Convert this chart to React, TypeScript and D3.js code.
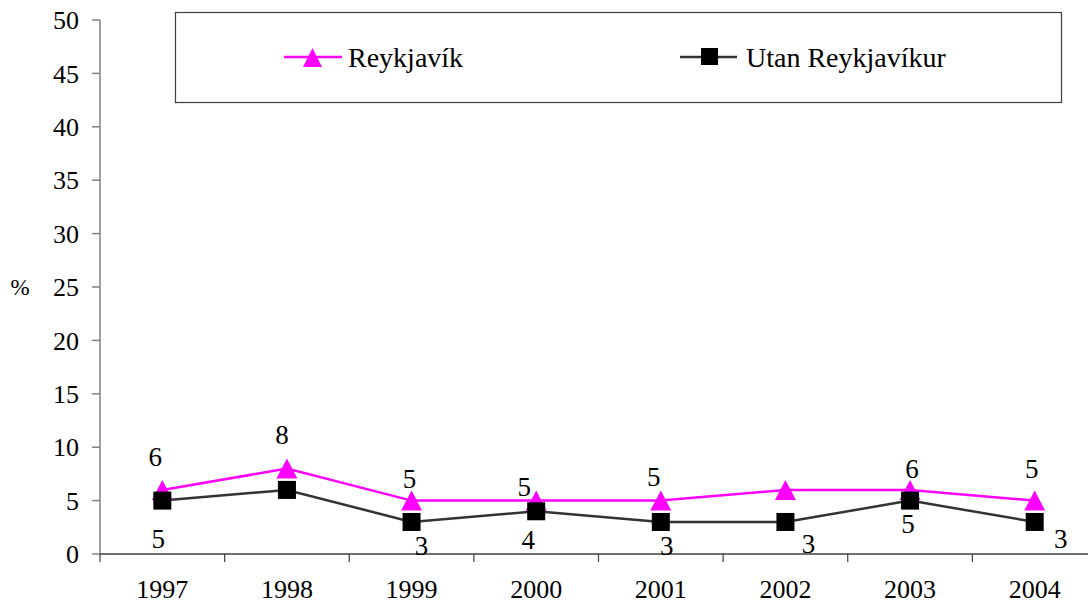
import React from "react";
import * as d3 from "d3";

const years = ["1997", "1998", "1999", "2000", "2001", "2002", "2003", "2004"];
const reykjavik = [6, 8, 5, 5, 5, 6, 6, 5];
const utan = [5, 6, 3, 4, 3, 3, 5, 3];
const reykLabelShown = [true, true, true, true, true, false, true, true];
const utanLabelShown = [true, false, true, true, true, true, true, true];
const yTicks = [0, 5, 10, 15, 20, 25, 30, 35, 40, 45, 50];

// label offsets (dx, baseline dy) relative to the marker
const reykOffsets: [number, number][] = [[-7, -24], [-5, -25], [-2, -13], [-12, -5], [-7, -15], [0, -15], [2, -12], [-3, -23]];
const utanOffsets: [number, number][] = [[-4, 47], [0, 45], [10, 33], [-8, 38], [6, 33], [23, 31], [-2, 32], [26, 26]];

const W = 1088, H = 607;
const SERIF = "'Liberation Serif', 'Times New Roman', serif";

function triPoints(x: number, y: number, w: number, h: number) {
  return `${x},${y - h / 2} ${x + w / 2},${y + h / 2} ${x - w / 2},${y + h / 2}`;
}

export default function App() {
  const x = d3.scaleBand<string>().domain(years).range([100, 1097]);
  const y = d3.scaleLinear().domain([0, 50]).range([554, 20]);
  const cx = (d: string) => (x(d) as number) + x.bandwidth() / 2;
  const line = d3.line<number>().x((_, i) => cx(years[i])).y((v) => y(v));
  const boundaries = years.map((d) => x(d) as number).concat([x.range()[1]]);

  return (
    <svg width={W} height={H} style={{ position: "absolute", left: 0, top: 0, background: "#fff" }}>
      {/* y axis */}
      <line x1={100} x2={100} y1={y(50)} y2={y(0)} stroke="#808080" strokeWidth={1.5} />
      {yTicks.map((t) => (
        <g key={t}>
          <line x1={92} x2={100} y1={y(t)} y2={y(t)} stroke="#808080" strokeWidth={1.5} />
          <text x={79} y={y(t)} dy="0.35em" textAnchor="end" fontFamily={SERIF} fontSize={26} fill="#000">{t}</text>
        </g>
      ))}
      <text x={20} y={287} dy="0.35em" textAnchor="middle" fontFamily={SERIF} fontSize={23} fill="#000">%</text>
      {/* x axis */}
      <line x1={100} x2={W} y1={y(0)} y2={y(0)} stroke="#404040" strokeWidth={1.5} />
      {boundaries.filter((b) => b < W).map((b, i) => (
        <line key={i} x1={b} x2={b} y1={y(0)} y2={y(0) + 8} stroke="#404040" strokeWidth={1.2} />
      ))}
      {years.map((d) => (
        <text key={d} x={cx(d)} y={598} textAnchor="middle" fontFamily={SERIF} fontSize={26} fill="#000">{d}</text>
      ))}

      {/* Utan line */}
      <path d={line(utan) as string} fill="none" stroke="#333333" strokeWidth={2.5} />
      {/* Reykjavik line */}
      <path d={line(reykjavik) as string} fill="none" stroke="#ff00ff" strokeWidth={2.5} />
      {reykjavik.map((v, i) => (
        <polygon key={"t" + i} points={triPoints(cx(years[i]), y(v), 21, 20)} fill="#ff00ff" />
      ))}
      {utan.map((v, i) => (
        <rect key={"s" + i} x={cx(years[i]) - 9} y={y(v) - 9} width={18} height={18} fill="#000" />
      ))}

      {/* labels */}
      {reykjavik.map((v, i) =>
        reykLabelShown[i] ? (
          <text key={"rl" + i} x={cx(years[i]) + reykOffsets[i][0]} y={y(v) + reykOffsets[i][1]} textAnchor="middle" fontFamily={SERIF} fontSize={27} fill="#000">{v}</text>
        ) : null
      )}
      {utan.map((v, i) =>
        utanLabelShown[i] ? (
          <text key={"ul" + i} x={cx(years[i]) + utanOffsets[i][0]} y={y(v) + utanOffsets[i][1]} textAnchor="middle" fontFamily={SERIF} fontSize={27} fill="#000">{v}</text>
        ) : null
      )}

      {/* legend */}
      <rect x={175.5} y={12.5} width={886} height={90} fill="#fff" stroke="#404040" strokeWidth={1.2} />
      <line x1={284} x2={342} y1={57} y2={57} stroke="#ff00ff" strokeWidth={2.5} />
      <polygon points={triPoints(312.5, 57.5, 19, 19)} fill="#ff00ff" />
      <text x={348} y={67} fontFamily={SERIF} fontSize={28} fill="#000">Reykjavík</text>
      <line x1={680} x2={737} y1={57} y2={57} stroke="#333333" strokeWidth={2.5} />
      <rect x={701} y={48} width={17} height={17} fill="#000" />
      <text x={746} y={67} fontFamily={SERIF} fontSize={28} fill="#000">Utan Reykjavíkur</text>
    </svg>
  );
}
